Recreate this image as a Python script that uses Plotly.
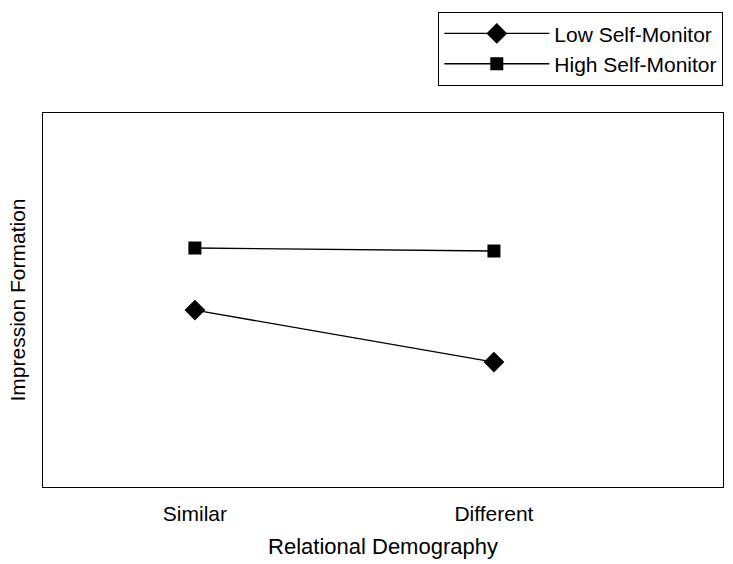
import plotly.graph_objects as go

categories = ["Similar", "Different"]
low_self_monitor = [4.73, 3.34]
high_self_monitor = [6.39, 6.31]

FONT = "Liberation Sans, Arial, sans-serif"

fig = go.Figure()
fig.add_trace(go.Scatter(
    x=categories, y=low_self_monitor, name="Low Self-Monitor",
    mode="lines+markers",
    line=dict(color="black", width=1.3),
    marker=dict(symbol="diamond", size=16, color="black"),
))
fig.add_trace(go.Scatter(
    x=categories, y=high_self_monitor, name="High Self-Monitor",
    mode="lines+markers",
    line=dict(color="black", width=1.3),
    marker=dict(symbol="square", size=13, color="black"),
))

fig.update_layout(
    width=733, height=564,
    margin=dict(l=43, r=10, t=113, b=77),
    paper_bgcolor="white", plot_bgcolor="white",
    font=dict(family=FONT, size=22, color="black"),
    showlegend=True,
    legend=dict(
        x=1, xanchor="right", y=1.27, yanchor="top",
        bordercolor="black", borderwidth=1.3, bgcolor="white",
        font=dict(size=21), tracegroupgap=0, itemwidth=105,
    ),
    xaxis=dict(
        type="category", range=[-0.508, 1.766],
        showgrid=False, zeroline=False, ticks="",
        showline=True, linecolor="black", linewidth=1.3, mirror=True,
        tickfont=dict(size=21), ticklabelstandoff=8,
        title=dict(text="Relational Demography", font=dict(size=22), standoff=14),
    ),
    yaxis=dict(
        range=[0, 10], showgrid=False, zeroline=False, ticks="",
        showticklabels=False,
        showline=True, linecolor="black", linewidth=1.3, mirror=True,
        title=dict(text="Impression Formation", font=dict(size=21), standoff=10),
    ),
)

fig.write_html(
    "out.html",
    config={"displayModeBar": False},
    post_script="document.body.style.margin='0';document.body.style.padding='0';",
)
